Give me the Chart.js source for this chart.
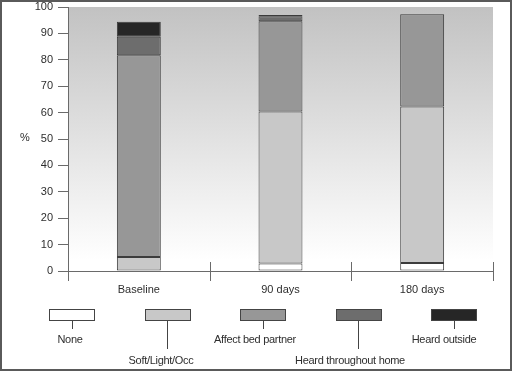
<!DOCTYPE html>
<html>
<head>
<title>Snoring severity</title>
<style>
body {
	margin: 0;
	background: #fff;
}

.frame {
	position: relative;
	width: 512px;
	height: 371px;
	box-sizing: border-box;
	border: 2px solid #5a5a5a;
	font-family: "Liberation Sans", Arial, sans-serif;
	color: #2e2e2e;
}

#chart {
	position: absolute;
	left: -2px;
	top: -2px;
}

.unit {
	position: absolute;
	left: 18px;
	top: 129px;
	font-size: 11px;
}

.box {
	position: absolute;
	width: 44px;
	height: 10px;
	border: 1px solid #444;
}

.lead {
	position: absolute;
	width: 1px;
	background: #444;
}

.lbl {
	position: absolute;
	font-size: 11px;
	letter-spacing: -0.3px;
	white-space: nowrap;
	transform: translate(-50%, -50%);
}
</style>
</head>
<script src="https://cdn.jsdelivr.net/npm/chart.js@4/dist/chart.umd.min.js"></script>
<body>
	<div class="frame" id="frame">
		<canvas id="chart" width="512" height="371"></canvas>
		<div class="unit">%</div>
	</div>
	<script>
		const categories = ['Baseline', '90 days', '180 days'];
		const seriesNames = ['None', 'Soft/Light/Occ', 'Affect bed partner', 'Heard throughout home', 'Heard outside'];
		const none = [0, 2.8, 3.0];
		const softLightOcc = [5.3, 57.6, 59.3];
		const affectBedPartner = [76.4, 34.2, 35.0];
		const heardThroughoutHome = [7.0, 1.9, 0];
		const heardOutside = [5.7, 0.5, 0];
		const yTicks = [0, 10, 20, 30, 40, 50, 60, 70, 80, 90, 100];

		const fills = ['#ffffff', '#c8c8c8', '#979797', '#6d6d6d', '#262626'];
		const allSeries = [none, softLightOcc, affectBedPartner, heardThroughoutHome, heardOutside];
		const font = { family: '"Liberation Sans", Arial, sans-serif', size: 11 };
		const axisColor = '#6a6a6a';

		// gray-to-white panel behind the bars, plus the category separator ticks
		const panel = {
			id: 'panel',
			beforeDraw(chart) {
				const { ctx, chartArea: a } = chart;
				const g = ctx.createLinearGradient(0, a.top, 0, a.bottom);
				g.addColorStop(0, '#c2c2c2');
				g.addColorStop(0.96, '#ffffff');
				ctx.save();
				ctx.fillStyle = g;
				ctx.fillRect(a.left, a.top, a.right - a.left, a.bottom - a.top);
				ctx.restore();
			},
			afterDraw(chart) {
				const { ctx, chartArea: a } = chart;
				const x = chart.scales.x;
				ctx.save();
				ctx.strokeStyle = axisColor;
				ctx.lineWidth = 1;
				for (let i = 0; i <= categories.length; i++) {
					const px = Math.round(x.getPixelForValue(i - 0.5)) + 0.5;
					ctx.beginPath();
					ctx.moveTo(px, a.bottom - 9);
					ctx.lineTo(px, a.bottom + 10);
					ctx.stroke();
				}
				ctx.restore();
			}
		};

		new Chart(document.getElementById('chart'), {
			type: 'bar',
			data: {
				labels: categories,
				datasets: seriesNames.map((name, i) => ({
					label: name,
					data: allSeries[i],
					backgroundColor: fills[i],
					borderColor: '#3c3c3c',
					borderWidth: 1,
					borderSkipped: false,
					barPercentage: 0.31,
					categoryPercentage: 1
				}))
			},
			options: {
				responsive: false,
				animation: false,
				layout: { padding: { left: 0, right: 19, top: 7, bottom: 60 } },
				plugins: { legend: { display: false }, tooltip: { enabled: false } },
				scales: {
					x: {
						stacked: true,
						afterFit: s => { s.height = 40; s.paddingLeft = 0; s.paddingRight = 0; },
						grid: { display: false },
						border: { display: true, color: axisColor },
						ticks: { font: font, color: '#2e2e2e', padding: 4 }
					},
					y: {
						stacked: true,
						min: 0,
						max: 100,
						afterFit: s => { s.width = 68; s.paddingTop = 0; s.paddingBottom = 0; },
						afterBuildTicks: s => { s.ticks = yTicks.map(v => ({ value: v })); },
						grid: { drawOnChartArea: false, tickLength: 10, color: axisColor },
						border: { display: true, color: axisColor },
						ticks: { font: font, color: '#2e2e2e', padding: 5 }
					}
				}
			},
			plugins: [panel]
		});

		// legend: boxes with leader lines down to staggered labels
		const frame = document.getElementById('frame');
		const labelX = [70, 161, 255, 350, 444];
		seriesNames.forEach((name, i) => {
			const left = 47 + i * 95.6;
			const box = document.createElement('div');
			box.className = 'box';
			box.style.left = left + 'px';
			box.style.top = '307px';
			box.style.background = fills[i];
			frame.append(box);

			const lead = document.createElement('div');
			lead.className = 'lead';
			lead.style.left = Math.round(left + 22.5) + 'px';
			lead.style.top = '319px';
			lead.style.height = (i % 2 ? 28 : 8) + 'px';
			frame.append(lead);

			const lbl = document.createElement('div');
			lbl.className = 'lbl';
			lbl.textContent = name;
			lbl.style.left = (labelX[i] - 2) + 'px';
			lbl.style.top = (i % 2 ? 358 : 337) + 'px';
			frame.append(lbl);
		});
	</script>
</body>
</html>
